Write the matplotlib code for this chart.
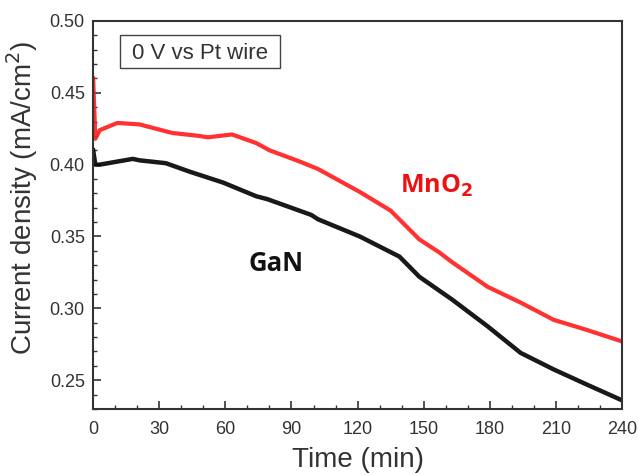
import matplotlib
matplotlib.use("Agg")
import matplotlib.pyplot as plt
from matplotlib.ticker import MultipleLocator
from matplotlib.patches import Rectangle

# values (time in min, current density in mA/cm2)
t_mno2 = [0, 1, 3, 11, 21, 36, 48, 52, 63, 74, 80, 94, 102, 121, 135, 148, 157,
          163, 179, 194, 209, 224, 240]
j_mno2 = [0.460, 0.418, 0.424, 0.429, 0.428, 0.422, 0.420, 0.419, 0.421, 0.415,
          0.410, 0.402, 0.397, 0.381, 0.368, 0.348, 0.339, 0.332, 0.315, 0.304,
          0.292, 0.285, 0.277]

t_gan = [0, 1, 3, 18, 21, 33, 44, 59, 74, 79, 99, 102, 121, 139, 148, 163, 179,
         194, 209, 224, 240]
j_gan = [0.410, 0.400, 0.400, 0.404, 0.403, 0.401, 0.395, 0.3875, 0.378, 0.376,
         0.365, 0.362, 0.350, 0.336, 0.322, 0.306, 0.2875, 0.269, 0.2575, 0.247,
         0.236]

fig = plt.figure(figsize=(6.38, 4.75), dpi=100)
ax = fig.add_axes([0.146, 0.139, 0.829, 0.817])

ax.plot(t_mno2, j_mno2, color="#ff1a1a", lw=3.0, alpha=0.9)
ax.plot(t_gan, j_gan, color="black", lw=3.2, alpha=0.9)

ax.set_xlim(0, 240)
ax.set_ylim(0.23, 0.50)
ax.xaxis.set_major_locator(MultipleLocator(30))
ax.xaxis.set_minor_locator(MultipleLocator(10))
ax.yaxis.set_major_locator(MultipleLocator(0.05))
ax.yaxis.set_minor_locator(MultipleLocator(0.01))
ax.tick_params(which="both", direction="in", colors="#333333", labelsize=13)
ax.tick_params(axis="x", pad=9)
ax.tick_params(axis="y", pad=6)
ax.tick_params(which="major", length=6, width=1.2)
ax.tick_params(which="minor", length=3, width=1.0)
for s in ax.spines.values():
    s.set_linewidth(1.5)
    s.set_color("#333333")
for lab in ax.get_xticklabels() + ax.get_yticklabels():
    lab.set_family("Liberation Sans")

ax.set_xlabel("Time (min)", family="Liberation Sans", fontsize=20, color="#333333", labelpad=6)
ax.set_ylabel("Current density (mA/cm$^2$)", family="Liberation Sans", fontsize=20,
              color="#333333")
ax.yaxis.set_label_coords(-0.10, 0.545)

# note box
ax.add_patch(Rectangle((12.25, 0.4674), 72.6, 0.0229, fill=False, ec="#444444", lw=1.0))
ax.text(17.7, 0.4736, "0 V vs Pt wire", family="Liberation Sans", fontsize=16,
        color="#333333", va="baseline")
ax.text(139.3, 0.3806, "MnO$_\\mathbf{2}$", family="Open Sans", fontsize=18,
        fontweight="bold", color="#ee1111", va="baseline")
ax.text(70.3, 0.3257, "GaN", family="Open Sans", fontsize=18.5, fontweight="bold",
        color="#111111", va="baseline")

fig.savefig("out.png", dpi=100)
